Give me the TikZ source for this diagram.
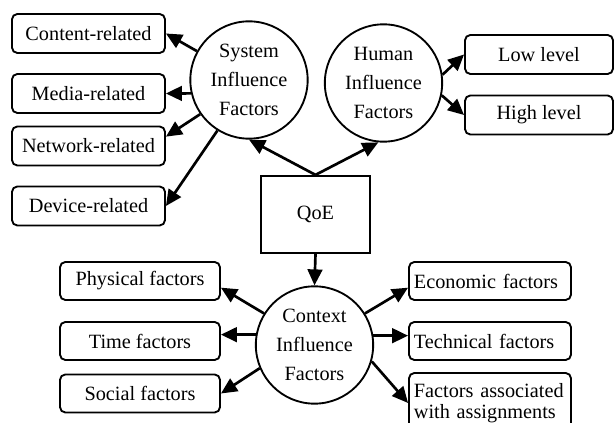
\documentclass[tikz,border=0pt]{standalone}
\usepackage{fontspec}
\setmainfont{Liberation Serif}
\usetikzlibrary{arrows.meta}

\begin{document}
\begin{tikzpicture}[x=0.75pt, y=-0.75pt,
			every node/.style={align=center, line width=1.4pt, font=\fontsize{15.2}{22}\selectfont},
			circleVertex/.style={
					draw, shape=circle,
					minimum size=88pt, inner sep=0pt
				},
			factorBox/.style={
					draw, rounded corners=4pt,
					minimum width=114.75pt, minimum height=29.25pt,
					inner sep=1pt
				},
			rightFactorBox/.style={
					draw, rounded corners=4pt,
					minimum width=121.5pt, minimum height=28.5pt,
					inner xsep=3pt, inner ysep=1pt,
					text width=114.1pt, align=left
				},
			qoeBox/.style={
					draw, minimum width=82pt, minimum height=58pt
				},
			factorArrow/.style={-{Triangle[length=12pt, width=11pt]}, line width=2pt}
		]
		\useasboundingbox (0,0) rectangle (615,423);

		% System factors
		\node[circleVertex] (S0) at (249,80) {System\\Influence\\Factors};
		\node[factorBox] (S1) at (88.5,33.5) {Content-related};
		\node[factorBox] (S2) at (88.5,93.5) {Media-related};
		\node[factorBox] (S3) at (88.5,146) {Network-related};
		\node[factorBox] (S4) at (88.5,206) {Device-related};

		% Human factors
		\node[circleVertex] (H0) at (383.5,83) {Human\\Influence\\Factors};
		\node[factorBox, minimum width=111pt] (H1) at (539,54.5) {Low level};
		\node[factorBox, minimum width=111pt] (H2) at (539,115) {High level};

		% QoE
		\node[qoeBox] (Q) at (315.5,214.5) {QoE};

		% Context factors
		\node[circleVertex] (C0) at (314.5,345) {Context\\Influence\\Factors};
		\node[factorBox, minimum width=120pt, minimum height=28.5pt] (C1) at (140,281) {Physical factors};
		\node[factorBox, minimum width=120pt, minimum height=28.5pt] (C2) at (140,341) {Time factors};
		\node[factorBox, minimum width=120pt, minimum height=28.5pt] (C3) at (140,393.5) {Social factors};
		\node[rightFactorBox] (C4) at (490,281) {Economic factors};
		\node[rightFactorBox] (C5) at (490,341) {Technical factors};
		\node[rightFactorBox, minimum height=45pt, font=\fontsize{15.2}{16}\selectfont] (C6) at (490,403) {Factors associated\\with assignments};

		\draw[factorArrow] (Q.north) -- (S0.south);
		\draw[factorArrow] (Q.north) -- (H0.265);
		\draw[factorArrow] (Q.south) -- (C0.north);

		\draw[factorArrow] (S0.151) -- (S1.east);
		\draw[factorArrow] (S0.193) -- (S2.east);
		\draw[factorArrow] (S0.215) -- ([yshift=7pt]S3.east);
		\draw[factorArrow] (S0.238) -- (S4.east);

		\draw[factorArrow] (H0.8) -- (H1.west);
		\draw[factorArrow] (H0.-12) -- (H2.west);

		\draw[factorArrow] (C0.148) -- ([yshift=-5pt]C1.east);
		\draw[factorArrow] (C0.170) -- (C0.170 -| C2.east);
		\draw[factorArrow] (C0.203) -- (C3.east);
		\draw[factorArrow] (C0.32) -- ([yshift=-5pt]C4.west);
		\draw[factorArrow] (C0.9) -- (C0.9 -| C5.west);
		\draw[factorArrow] (C0.-16) -- (C6.west);
	\end{tikzpicture}
\end{document}
